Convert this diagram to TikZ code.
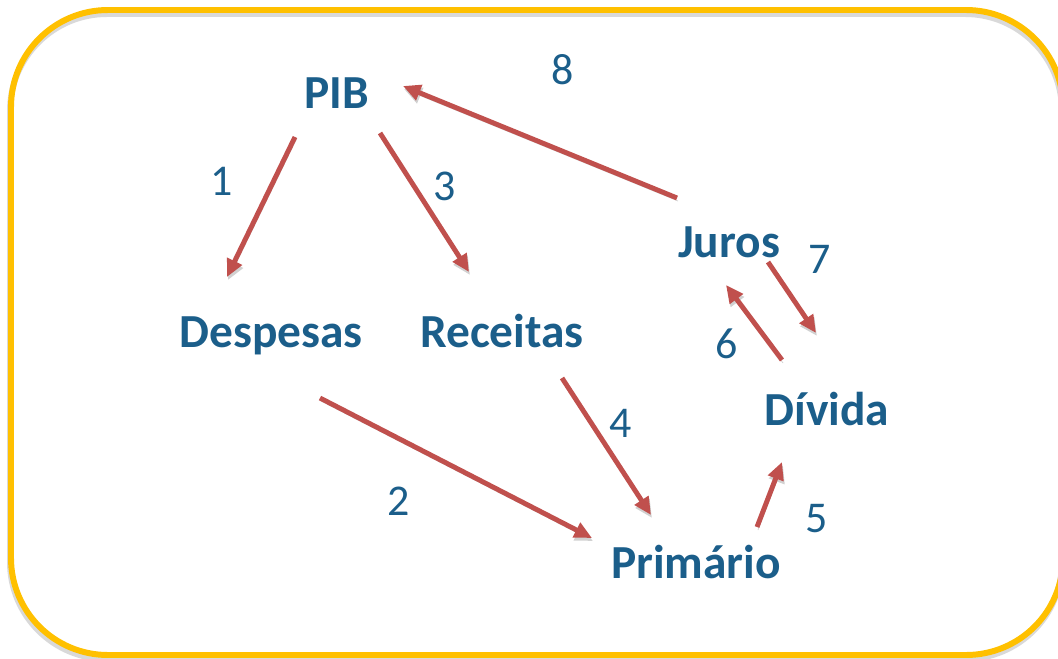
\documentclass[tikz,border=0pt]{standalone}
\usepackage{fontspec}
\setmainfont{Carlito}
\usetikzlibrary{arrows.meta}
\definecolor{frameyellow}{HTML}{FFC000}
\definecolor{textblue}{HTML}{1B5E8A}
\definecolor{arrowred}{HTML}{C0504D}

\begin{document}
\begin{tikzpicture}[
	x=0.02cm, y=-0.02cm,
	term/.style={anchor=base, text=textblue, font=\fontsize{27}{32}\selectfont\bfseries, inner sep=0pt},
	num/.style={anchor=base, text=textblue, font=\fontsize{25}{30}\selectfont, inner sep=0pt},
	link/.style={draw=arrowred, line width=2.8pt, -{Triangle[length=10pt, width=9pt]},
		preaction={draw=black!18, transform canvas={shift={(1,3)}}}},
	frame/.style={draw=frameyellow, line width=3.4pt, rounded corners=1.94cm}
]
\useasboundingbox (0,0) rectangle (1058,659);
% frame with its shadow
\draw[frame, draw=black!15, transform canvas={shift={(-1,4)}}] (11,10) rectangle (1063,655);
\draw[frame] (11,10) rectangle (1063,655);
% terms
\node[term] (pib) at (337,108) {PIB};
\node[term] (desp) at (271,347) {Despesas};
\node[term] (rec) at (502,347) {Receitas};
\node[term] (juros) at (729,257) {Juros};
\node[term] (div) at (827,425) {Dívida};
\node[term] (prim) at (696,578) {Primário};
% numbers
\node[num] (n1) at (222,195) {1};
\node[num] (n2) at (399,515) {2};
\node[num] (n3) at (445,200) {3};
\node[num] (n4) at (621,437) {4};
\node[num] (n5) at (817,532) {5};
\node[num] (n6) at (727,358) {6};
\node[num] (n7) at (820,273) {7};
\node[num] (n8) at (563,84) {8};
% links
\draw[link] ([shift={(-42,29)}]pib.base) -- ([shift={(-44,-70)}]desp.base);
\draw[link] ([shift={(43,25)}]pib.base) -- ([shift={(-33,-75)}]rec.base);
\draw[link] ([shift={(49,51)}]desp.base) -- ([shift={(-104,-40)}]prim.base);
\draw[link] ([shift={(60,31)}]rec.base) -- ([shift={(-45,-63)}]prim.base);
\draw[link] ([shift={(61,-51)}]prim.base) -- ([shift={(-45,37)}]div.base);
\draw[link] ([shift={(-45,-65)}]div.base) -- ([shift={(-3,28)}]juros.base);
\draw[link] ([shift={(39,5)}]juros.base) -- ([shift={(-11,-92)}]div.base);
\draw[link] ([shift={(-52,-59)}]juros.base) -- ([shift={(66,-22)}]pib.base);
\end{tikzpicture}
\end{document}
